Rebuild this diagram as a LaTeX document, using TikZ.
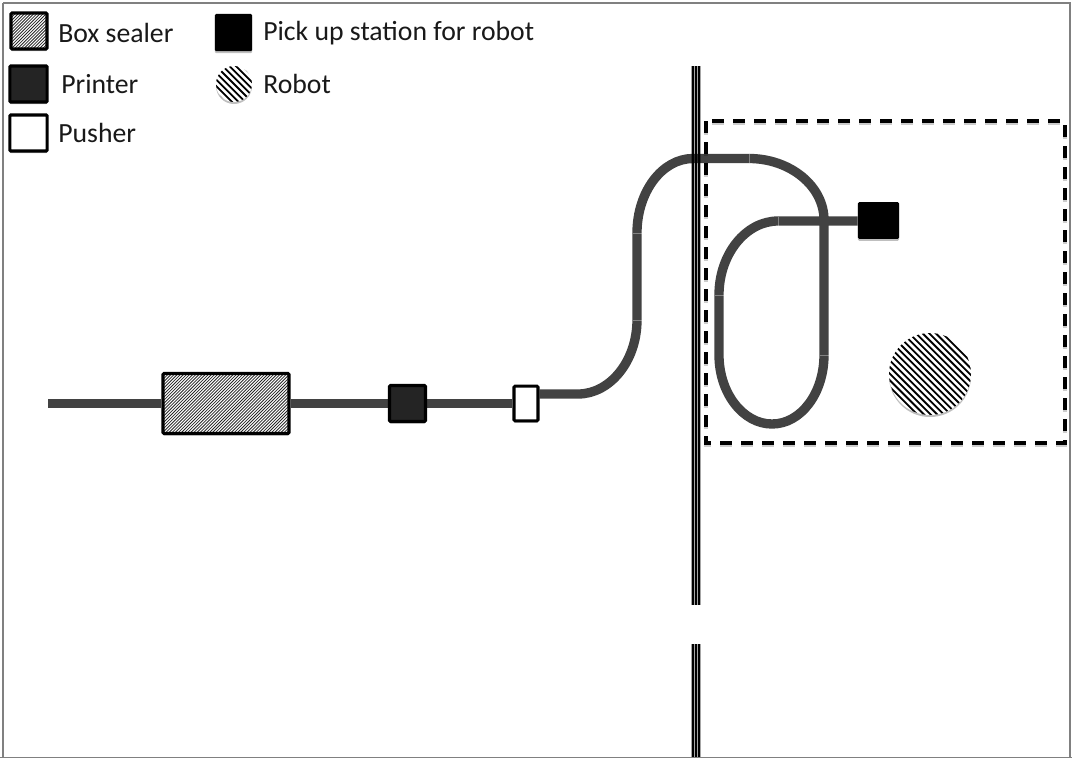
\documentclass[tikz,border=0pt]{standalone}
\usepackage{fontspec}
\setmainfont{Carlito}
\usetikzlibrary{shadows}
\newcommand{\hatchfill}[5]{% sign, period, line width(px), colour, half-count
  \begin{scope}[shift={(path picture bounding box.center)}]
    \foreach \k in {-#5,...,#5}{
      \draw[draw=#4,line width=#3*0.75pt] ({\k*#2*1.414-120},{#1*120}) -- ({\k*#2*1.414+120},{-#1*120});
    }
  \end{scope}}
\tikzset{
  x=0.75pt,y=-0.75pt,
  softshadow/.style={drop shadow={opacity=.25,shadow xshift=0pt,shadow yshift=-1.5pt,fill=black}},
  boxbase/.style={rectangle,rounded corners=.8pt,draw=black,line width=2.3pt,inner sep=0pt,softshadow},
  sealerbox/.style={boxbase,fill=white,path picture={\hatchfill{1}{2.2}{0.8}{black!85}{70}}},
  printerbox/.style={boxbase,fill=black!86},
  pusherbox/.style={boxbase,fill=white},
  pickupbox/.style={rectangle,rounded corners=1pt,fill=black,inner sep=0pt,softshadow},
  robotdisc/.style={circle,fill=white,inner sep=0pt,softshadow,path picture={\hatchfill{-1}{4.7}{1.8}{black}{40}}},
  robotsmall/.style={circle,fill=white,inner sep=0pt,softshadow,path picture={\hatchfill{-1}{4.7}{1.8}{black}{24}}},
  track/.style={draw=black,draw opacity=.74,line width=7pt},
  seam/.style={draw=white,draw opacity=.35,line width=.5pt},
  lab/.style={anchor=base west,inner sep=0pt,font=\fontsize{20.8pt}{22pt}\selectfont,text=black!90},
  wallgray/.style={fill=black!35,draw=none},
  wallblack/.style={fill=black,draw=none},
  zone/.style={draw=black,line width=2.3pt,dash pattern=on 9pt off 6.75pt},
  zoneshade/.style={zone,draw opacity=.2,line width=2.6pt}
}
\begin{document}
\begin{tikzpicture}
\useasboundingbox (0,0) rectangle (1072,758);
\fill[white] (0,0) rectangle (1072,758);
\draw[draw=black!50,line width=1.5pt] (3,3) -- (1070,3) -- (1070,758) (3,3) -- (3,758);
\draw[draw=black!50,line width=1pt] (0,757.5) -- (1072,757.5);

% wall
\foreach \ya/\yb in {66/605,644/757}{
  \fill[wallgray] (691,\ya) rectangle (701,\yb);
  \fill[wallblack] (691.8,\ya) rectangle (693.6,\yb);
  \fill[wallblack] (694.6,\ya) rectangle (697.4,\yb);
  \fill[wallblack] (698.4,\ya) rectangle (700.2,\yb);
}

% named track points
\coordinate (start) at (48,403.5);
\coordinate (s1) at (578,394);
\coordinate (s2) at (637,320);
\coordinate (s3) at (637,233);
\coordinate (s4) at (693,158.5);
\coordinate (s5) at (749,158.5);
\coordinate (s6) at (824,220);
\coordinate (s7) at (824,355);
\coordinate (s8) at (772,424);
\coordinate (s9) at (719,355);
\coordinate (s10) at (719,295);
\coordinate (s11) at (778,221);

% dashed robot zone
\draw[zoneshade] (706,123) rectangle (1065,445);
\draw[zone] (706,121) rectangle (1065,443);

% nodes
\node[sealerbox,minimum width=94.5pt,minimum height=45pt] (sealer) at (226,403.5) {};
\node[printerbox,minimum width=27pt,minimum height=27pt] (printer) at (407.5,403.5) {};
\node[pusherbox,minimum width=18pt,minimum height=26pt] (pusher) at (526,403.5) {};
\node[pickupbox,minimum width=31pt,minimum height=27.5pt] (pickup) at (878.5,220.5) {};
\node[robotdisc,minimum size=61.5pt] (robot) at (930,374) {};

% track
\draw[track] (start) -- (sealer.west);
\draw[track] (sealer.east) -- (printer.west);
\draw[track] (printer.east) -- (pusher.west);
\draw[track] (pusher.east |- s1) -- (s1)
  .. controls (610,394) and (637,361) .. (s2) -- (s3)
  .. controls (637,192) and (662,158.5) .. (s4) -- (s5)
  .. controls (790,158.5) and (824,186) .. (s6) -- (s7)
  .. controls (824,393) and (801,424) .. (s8)
  .. controls (743,424) and (719,393) .. (s9) -- (s10)
  .. controls (719,254) and (746,221) .. (s11) -- (pickup.west |- s11);
\draw[seam] (632.5,320) -- (641.5,320) (632.5,233) -- (641.5,233)
  (749,154) -- (749,163) (819.5,355) -- (828.5,355)
  (714.5,295) -- (723.5,295) (778,216.5) -- (778,225.5);

% legend
\node[sealerbox,minimum width=27pt,minimum height=27pt] (legsealer) at (29,31) {};
\node[printerbox,minimum width=28pt,minimum height=27pt] (legprinter) at (28.5,84) {};
\node[pusherbox,minimum width=28pt,minimum height=27pt] (legpusher) at (28.5,133) {};
\node[pickupbox,minimum width=28pt,minimum height=28pt] (legpickup) at (233.5,32.5) {};
\node[robotsmall,minimum size=27pt] (legrobot) at (234,84) {};
\node[lab] (tsealer) at (58,42) {Box sealer};
\node[lab] (tprinter) at (61,93) {Printer};
\node[lab] (tpusher) at (58,142) {Pusher};
\node[lab] (tpickup) at (263,40) {Pick up station for robot};
\node[lab] (trobot) at (263,93) {Robot};
\end{tikzpicture}
\end{document}
